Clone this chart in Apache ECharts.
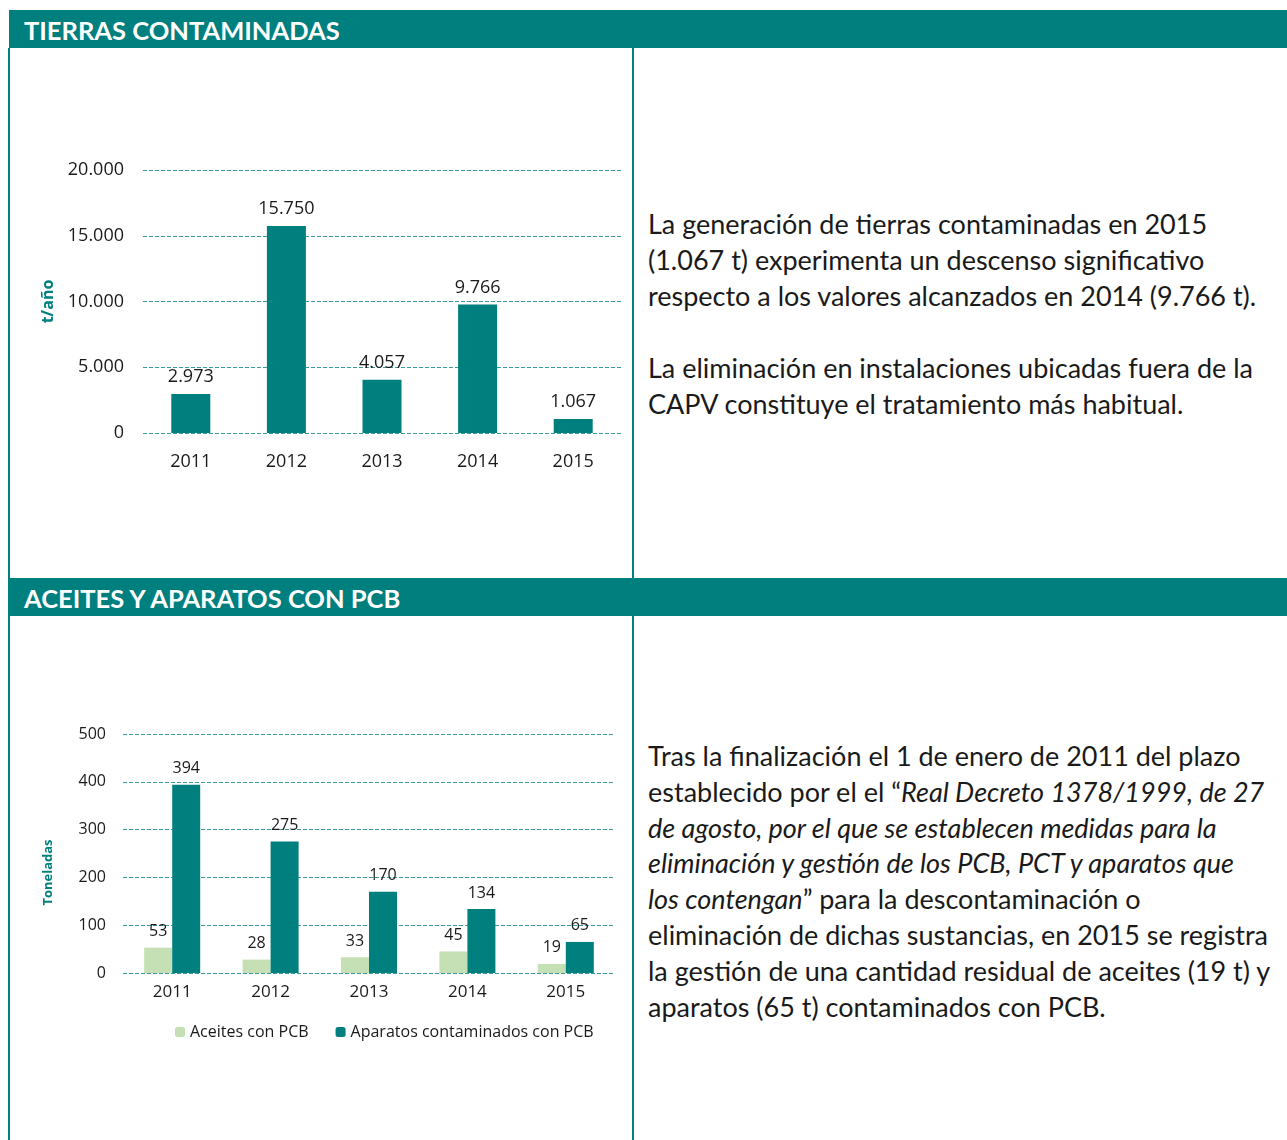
<!DOCTYPE html>
<html lang="es">
<head>
<meta charset="UTF-8">
<title>Tierras contaminadas / PCB</title>
<script src="https://cdn.jsdelivr.net/npm/echarts@6/dist/echarts.min.js"></script>
<style>
  html, body { margin: 0; padding: 0; background: #fff; }
  body { width: 1287px; height: 1140px; position: relative; overflow: hidden; font-family: Lato, "Open Sans", sans-serif; }
  .bar { position: absolute; left: 9px; width: 1278px; height: 38px; background: #007f7f; color: #fff;
         font-weight: bold; font-size: 25.5px; line-height: 40px; padding-left: 15px; box-sizing: border-box; }
  .vline { position: absolute; width: 2px; background: #007f7f; }
  .txt { position: absolute; left: 648px; font-size: 27px; line-height: 36px; color: #1a1a1a; white-space: nowrap; }
  .chart { position: absolute; left: 10px; width: 622px; }
</style>
</head>
<body>
<div class="bar" style="top:10px">TIERRAS CONTAMINADAS</div>
<div class="bar" style="top:578px">ACEITES Y APARATOS CON PCB</div>
<div class="vline" style="left:8px;top:48px;height:1092px"></div>
<div class="vline" style="left:632px;top:48px;height:530px"></div>
<div class="vline" style="left:632px;top:616px;height:524px"></div>

<div id="chart1" class="chart" style="top:49px;height:528px"></div>
<div id="chart2" class="chart" style="top:617px;height:523px"></div>

<div class="txt" style="top:206px">
La generación de tierras contaminadas en 2015<br>
(1.067 t) experimenta un descenso significativo<br>
respecto a los valores alcanzados en 2014 (9.766 t).<br>
<br>
La eliminación en instalaciones ubicadas fuera de la<br>
CAPV constituye el tratamiento más habitual.
</div>
<div class="txt" style="top:738px;line-height:35.8px">
Tras la finalización el 1 de enero de 2011 del plazo<br>
establecido por el el “<i>Real Decreto 1378/1999, de 27</i><br>
<i>de agosto, por el que se establecen medidas para la</i><br>
<i>eliminación y gestión de los PCB, PCT y aparatos que</i><br>
<i>los contengan</i>” para la descontaminación o<br>
eliminación de dichas sustancias, en 2015 se registra<br>
la gestión de una cantidad residual de aceites (19 t) y<br>
aparatos (65 t) contaminados con PCB.
</div>

<script type="text/javascript">
// datos
var years = ['2011', '2012', '2013', '2014', '2015'];
var tierras = [2973, 15750, 4057, 9766, 1067];
var aceites = [53, 28, 33, 45, 19];
var aparatos = [394, 275, 170, 134, 65];

var teal = '#007f7f';
var lightGreen = '#c5e0b4';
var gridColor = '#3a9c9a';
var font = '"Open Sans", sans-serif';

// separador de miles con punto
function miles(v) {
    return String(v).replace(/\B(?=(\d{3})+(?!\d))/g, '.');
}

var chart1 = echarts.init(document.getElementById('chart1'));
chart1.setOption({
    animation: false,
    grid: { left: 133, right: 11, top: 121, bottom: 144 },
    xAxis: {
        type: 'category',
        data: years,
        axisLine: { show: false },
        axisTick: { show: false },
        axisLabel: { color: '#1a1a1a', fontSize: 18, fontFamily: font, margin: 20 }
    },
    yAxis: {
        type: 'value',
        min: 0, max: 20000, interval: 5000,
        name: 't/año',
        nameLocation: 'middle',
        nameGap: 82,
        nameTextStyle: { color: teal, fontWeight: 'bold', fontSize: 16, fontFamily: font },
        axisLabel: { color: '#1a1a1a', fontSize: 18, fontFamily: font, margin: 19, formatter: miles },
        splitLine: { lineStyle: { color: gridColor, type: [4, 2], width: 1 } }
    },
    series: [{
        type: 'bar',
        data: tierras,
        barWidth: 39,
        itemStyle: { color: teal },
        label: { show: true, position: 'top', distance: 8, color: '#1a1a1a', fontSize: 18, fontFamily: font, formatter: function (p) { return miles(p.value); } }
    }]
});

var chart2 = echarts.init(document.getElementById('chart2'));
chart2.setOption({
    animation: false,
    grid: { left: 113, right: 17, top: 117, bottom: 167 },
    legend: {
        left: 160, top: 402,
        itemWidth: 10, itemHeight: 10, itemGap: 27,
        textStyle: { color: '#1a1a1a', fontSize: 16, fontFamily: font },
        data: ['Aceites con PCB', 'Aparatos contaminados con PCB']
    },
    xAxis: {
        type: 'category',
        data: years,
        axisLine: { show: false },
        axisTick: { show: false },
        axisLabel: { color: '#1a1a1a', fontSize: 17, fontFamily: font, margin: 11 }
    },
    yAxis: {
        type: 'value',
        min: 0, max: 500, interval: 100,
        name: 'Toneladas',
        nameLocation: 'middle',
        nameGap: 68,
        nameTextStyle: { color: teal, fontWeight: 'bold', fontSize: 13, fontFamily: font, padding: [0, 38, 0, 0] },
        axisLabel: { color: '#1a1a1a', fontSize: 16, fontFamily: font, margin: 17 },
        splitLine: { lineStyle: { color: gridColor, type: [4, 2], width: 1 } }
    },
    series: [{
        name: 'Aceites con PCB',
        type: 'bar',
        data: aceites,
        barWidth: 28,
        barGap: '0%',
        itemStyle: { color: lightGreen },
        label: { show: true, position: 'top', distance: 8, color: '#1a1a1a', fontSize: 16, fontFamily: font }
    }, {
        name: 'Aparatos contaminados con PCB',
        type: 'bar',
        data: aparatos,
        barWidth: 28,
        barGap: '0%',
        itemStyle: { color: teal },
        label: { show: true, position: 'top', distance: 8, color: '#1a1a1a', fontSize: 16, fontFamily: font }
    }]
});
</script>
</body>
</html>
